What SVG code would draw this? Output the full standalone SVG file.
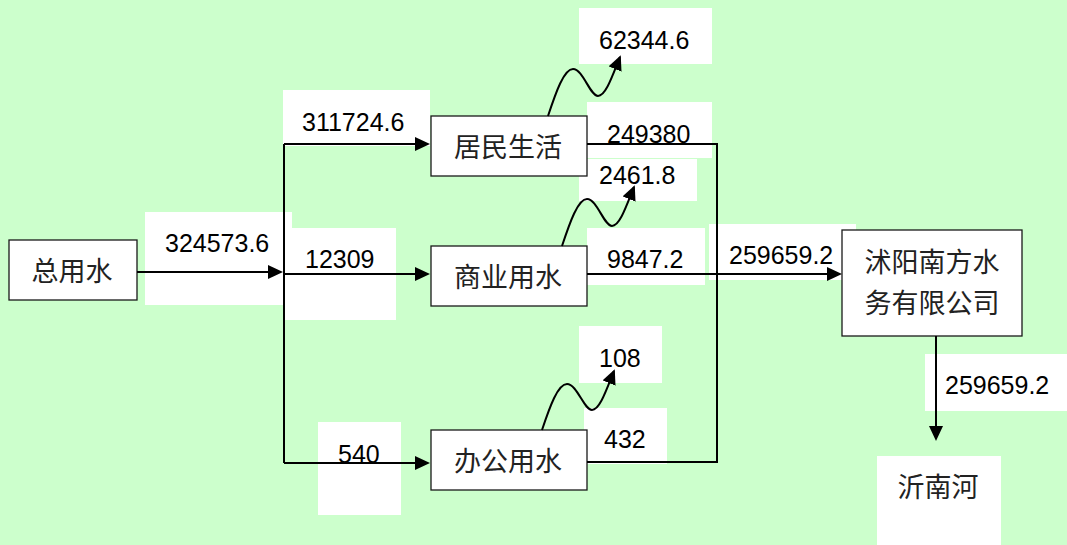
<svg xmlns="http://www.w3.org/2000/svg" width="1067" height="545" viewBox="0 0 1067 545">
<style>
.bg{fill:#CCFFCC}
.lbl{fill:#FFFFFF;stroke:none}
.box{fill:#FFFFFF;stroke:#1a1a1a;stroke-width:1.3}
.num{font-family:"Liberation Sans",Arial,sans-serif;font-size:25px;fill:#000}
.cn{font-family:"Noto Sans CJK SC","Noto Sans",sans-serif;font-size:27px;fill:#222;text-anchor:middle}
.ln{fill:none;stroke:#000;stroke-width:2}
</style>
<defs>
<marker id="ah" markerUnits="userSpaceOnUse" markerWidth="16" markerHeight="16" refX="13" refY="7" orient="auto">
<path d="M0,0 L15,7 L0,14 z" fill="#000"/>
</marker>
</defs>
<rect class="bg" x="0" y="0" width="1067" height="545"/>

<g id="labels">
<rect class="lbl" x="145" y="212" width="147" height="93"/>
<rect class="lbl" x="283" y="90" width="147" height="56"/>
<rect class="lbl" x="285" y="228" width="111" height="92"/>
<rect class="lbl" x="579" y="8" width="133" height="56"/>
<rect class="lbl" x="587" y="102" width="125" height="56"/>
<rect class="lbl" x="579" y="159" width="118" height="42"/>
<rect class="lbl" x="587" y="228" width="118" height="57"/>
<rect class="lbl" x="709" y="224" width="147" height="56"/>
<rect class="lbl" x="925" y="354" width="142" height="57"/>
<rect class="lbl" x="877" y="456" width="124" height="89"/>
<rect class="lbl" x="579" y="326" width="83" height="57"/>
<rect class="lbl" x="584" y="408" width="83" height="56"/>
<rect class="lbl" x="318" y="422" width="83" height="93"/>
<text class="num" x="165" y="252">324573.6</text>
<text class="num" x="302" y="131">311724.6</text>
<text class="num" x="305" y="268">12309</text>
<text class="num" x="599" y="49">62344.6</text>
<text class="num" x="607" y="143">249380</text>
<text class="num" x="599" y="184">2461.8</text>
<text class="num" x="607" y="268">9847.2</text>
<text class="num" x="729" y="264">259659.2</text>
<text class="num" x="945" y="394">259659.2</text>
<text class="num" x="599" y="367">108</text>
<text class="num" x="604" y="448">432</text>
<text class="num" x="338" y="463">540</text>
</g>

<g id="node-total">
<rect class="box" x="9" y="240" width="128" height="60"/>
<text class="cn" x="72" y="281">总用水</text>
</g>
<g id="node-resident">
<rect class="box" x="431" y="116" width="156" height="60"/>
<text class="cn" x="508" y="157">居民生活</text>
</g>
<g id="node-commercial">
<rect class="box" x="431" y="246" width="156" height="60"/>
<text class="cn" x="508" y="287">商业用水</text>
</g>
<g id="node-office">
<rect class="box" x="431" y="430" width="156" height="60"/>
<text class="cn" x="508" y="471">办公用水</text>
</g>
<g id="node-company">
<rect class="box" x="842" y="230" width="180" height="106"/>
<text class="cn" x="932" y="272">沭阳南方水</text>
<text class="cn" x="932" y="313">务有限公司</text>
</g>
<g id="node-river">
<text class="cn" x="938" y="497">沂南河</text>
</g>

<g id="connectors">
<path class="ln" d="M137,272 L281,272" marker-end="url(#ah)"/>
<path class="ln" d="M284,144 L284,463"/>
<path class="ln" d="M284,144 L428,144" marker-end="url(#ah)"/>
<path class="ln" d="M284,274 L428,274" marker-end="url(#ah)"/>
<path class="ln" d="M284,463 L428,463" marker-end="url(#ah)"/>
<path class="ln" d="M587,144 L717,144 L717,462 L587,462"/>
<path class="ln" d="M587,274 L840,274" marker-end="url(#ah)"/>
<path class="ln" d="M936,336 L936,439" marker-end="url(#ah)"/>
<path class="ln" d="M548,116 C556,92 564,69 573,69 C583,69 590,96 598,96 C606,96 613,74 620,57" marker-end="url(#ah)"/>
<path class="ln" d="M562,246 C570,222 578,199 587,199 C597,199 604,226 612,226 C620,226 627,204 634,187" marker-end="url(#ah)"/>
<path class="ln" d="M542,430 C550,406 558,384 567,384 C577,384 584,410 592,410 C600,410 607,388 614,371" marker-end="url(#ah)"/>
</g>
</svg>
